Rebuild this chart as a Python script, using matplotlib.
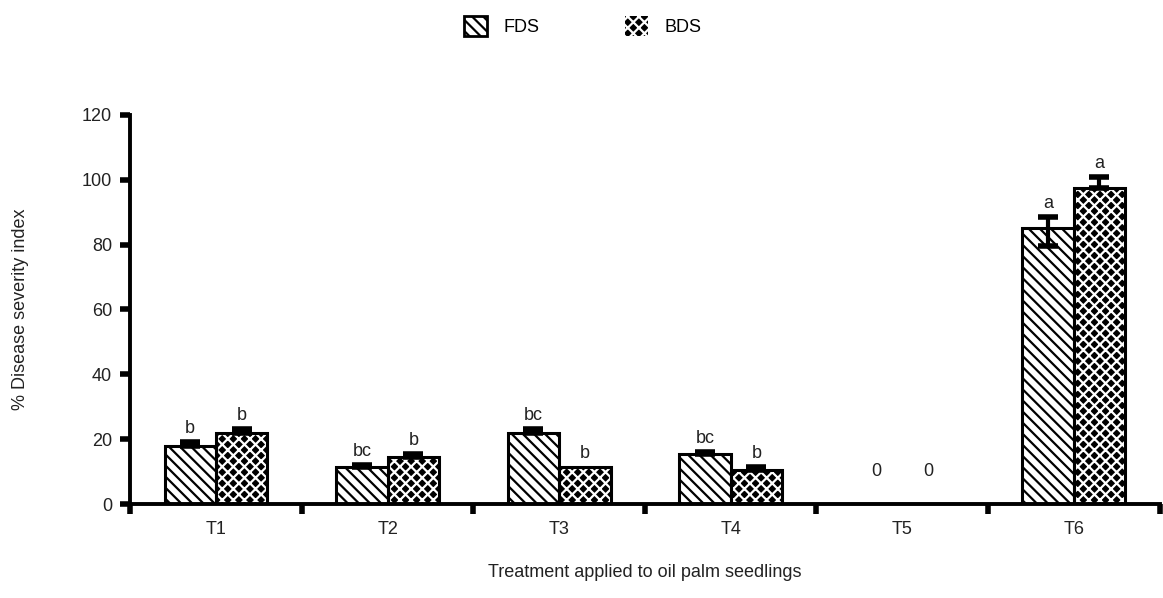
import numpy as np
import matplotlib
matplotlib.use('Agg')
import matplotlib.pyplot as plt
from matplotlib.patches import Patch

plt.rcParams['font.family'] = ['Liberation Sans', 'DejaVu Sans']
plt.rcParams['hatch.linewidth'] = 1.6

# data
treatments = ['T1', 'T2', 'T3', 'T4', 'T5', 'T6']
fds = [18, 11.5, 22, 15.5, 0, 85]
fds_err_lo = [0, 0, 0, 0, 0, 5.5]
fds_err_hi = [1.2, 0.6, 1.2, 0.5, 0, 3.5]
bds = [22, 14.5, 11.5, 10.5, 0, 97.5]
bds_err_lo = [0, 0, 0, 0, 0, 0]
bds_err_hi = [1.0, 0.8, 0, 1.0, 0, 3.2]
fds_letters = ['b', 'bc', 'bc', 'bc', '0', 'a']
bds_letters = ['b', 'b', 'b', 'b', '0', 'a']

fig = plt.figure(figsize=(11.63, 5.98), dpi=100)
ax = fig.add_axes([0.112, 0.157, 0.885, 0.651])

x = np.arange(len(treatments))
w = 0.3
fds_hatch = '\\\\\\'
bds_hatch = 'xxx'

# FDS: white with black diagonal hatch
ax.bar(x - w/2, fds, w, color='white', edgecolor='black', hatch=fds_hatch, linewidth=0, zorder=2)
ax.bar(x - w/2, fds, w, fill=False, edgecolor='black', linewidth=2.2, zorder=3)
# BDS: black with white checker
ax.bar(x + w/2, bds, w, color='black', edgecolor='white', hatch=bds_hatch, linewidth=0, zorder=2)
ax.bar(x + w/2, bds, w, fill=False, edgecolor='black', linewidth=2.2, zorder=3)

def draw_err(xs, vals, lo, hi):
    for xi, v, l, h in zip(xs, vals, lo, hi):
        if l == 0 and h == 0:
            continue
        ax.errorbar([xi], [v], yerr=[[l], [h]], fmt='none', ecolor='black',
                    elinewidth=3, capsize=7, capthick=4, zorder=4)

draw_err(x - w/2, fds, fds_err_lo, fds_err_hi)
draw_err(x + w/2, bds, bds_err_lo, bds_err_hi)

for xi, v, e, lab in zip(x - w/2, fds, fds_err_hi, fds_letters):
    y = v + e + 1.6 if v > 0 else 7.3
    ax.text(xi, y, lab, ha='center', va='bottom', fontsize=13, color='#222222')
for xi, v, e, lab in zip(x + w/2, bds, bds_err_hi, bds_letters):
    y = v + e + 1.6 if v > 0 else 7.3
    ax.text(xi, y, lab, ha='center', va='bottom', fontsize=13, color='#222222')

ax.set_xlim(-0.5, len(treatments) - 0.5)
ax.set_ylim(0, 120)
ax.set_yticks(np.arange(0, 121, 20))
ax.tick_params(axis='y', direction='out', length=7, width=4, labelsize=13, pad=6,
               labelcolor='#222222')

# ticks at group boundaries, labels at group centres
ax.set_xticks(np.arange(-0.5, len(treatments)), minor=False)
ax.set_xticklabels([])
ax.set_xticks(x, minor=True)
ax.set_xticklabels(treatments, minor=True)
ax.tick_params(axis='x', which='major', direction='out', length=7, width=4)
ax.tick_params(axis='x', which='minor', length=0, labelsize=13, pad=12, labelcolor='#222222')

for s in ['top', 'right']:
    ax.spines[s].set_visible(False)
for s in ['left', 'bottom']:
    ax.spines[s].set_linewidth(2.8)

ax.set_ylabel('% Disease severity index', fontsize=13, labelpad=38, color='#222222')
ax.set_xlabel('Treatment applied to oil palm seedlings', fontsize=13, labelpad=19, color='#222222')

handles = [Patch(facecolor='white', edgecolor='black', hatch=fds_hatch, linewidth=2),
           Patch(facecolor='black', edgecolor='white', hatch=bds_hatch, linewidth=0)]
fig.legend(handles, ['FDS', 'BDS'], loc='upper center', bbox_to_anchor=(0.501, 1.0), ncol=2,
           frameon=False, fontsize=13, handlelength=1.3, handleheight=1.3,
           columnspacing=4.7, handletextpad=0.9)

fig.savefig('out.png', dpi=100)
